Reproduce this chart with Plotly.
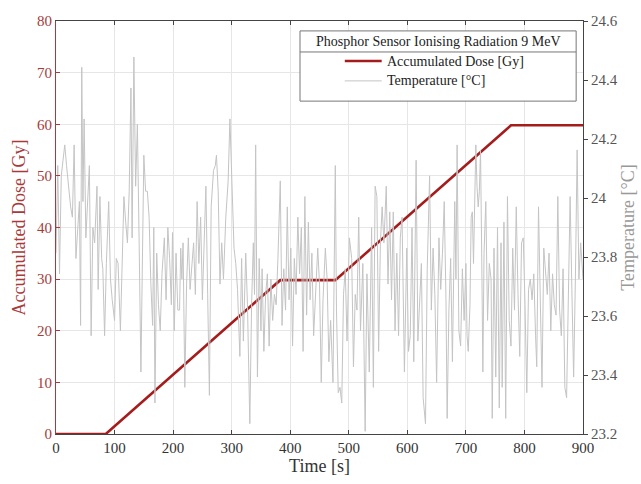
import plotly.graph_objects as go

# Accumulated dose profile (Gy) vs time (s)
dose_time = [0, 85, 383, 477, 777, 900]
dose_gy = [0, 0, 29.8, 29.8, 59.8, 59.8]

# Temperature trace (°C) vs time (s)
temp_time = [
    0, 3, 6, 9, 12, 15, 18, 21, 25, 28,
    31, 34, 37, 40, 42, 44, 46, 48, 51, 54,
    57, 60, 63, 66, 70, 72, 75, 78, 80, 83,
    86, 90, 93, 96, 100, 103, 106, 110, 113, 116,
    119, 122, 125, 128, 130, 133, 136, 139, 142, 145,
    150, 153, 156, 159, 162, 165, 167, 169, 172, 175,
    178, 181, 185, 188, 191, 194, 197, 199, 202, 205,
    208, 211, 213, 215, 217, 220, 223, 226, 229, 232,
    235, 238, 241, 244, 247, 250, 253, 256, 259, 262,
    265, 269, 272, 274, 277, 280, 283, 286, 290, 294,
    297, 301, 304, 307, 310, 314, 317, 320, 324, 327,
    331, 334, 337, 339, 341, 344, 347, 350, 352, 355,
    358, 361, 364, 367, 370, 373, 376, 379, 383, 386,
    389, 392, 395, 398, 401, 404, 407, 410, 413, 416,
    419, 422, 425, 428, 431, 434, 437, 440, 444, 447,
    450, 453, 456, 460, 463, 466, 469, 473, 477, 479,
    482, 485, 488, 491, 494, 497, 501, 505, 508, 511,
    514, 517, 520, 524, 528, 531, 535, 539, 542, 545,
    548, 551, 554, 557, 560, 564, 567, 570, 573, 576,
    579, 582, 585, 588, 591, 595, 599, 602, 605, 608,
    611, 615, 618, 621, 624, 627, 631, 634, 636, 638,
    641, 644, 647, 650, 654, 657, 660, 663, 666, 668,
    671, 674, 677, 679, 681, 683, 685, 688, 691, 694,
    697, 700, 702, 704, 707, 709, 711, 713, 715, 717,
    719, 721, 723, 725, 727, 729, 731, 734, 737, 740,
    743, 745, 748, 751, 754, 757, 760, 762, 765, 768,
    771, 774, 777, 780, 783, 786, 789, 792, 795, 798,
    801, 804, 807, 810, 813, 816, 819, 821, 824, 827,
    830, 833, 836, 839, 842, 845, 848, 851, 854, 857,
    860, 863, 866, 869, 872, 875, 878, 881, 884, 887,
    890, 893, 896, 900,
]
temp_c = [
    23.813, 24.11, 23.743, 24.075, 24.128, 24.18, 24.11, 24.04, 23.97, 23.935,
    24.18, 23.795, 23.9, 23.988, 23.568, 24.443, 23.988, 24.268, 23.865, 23.97,
    24.11, 23.533, 23.9, 23.848, 24.04, 23.69, 24.005, 23.795, 23.76, 23.533,
    23.778, 23.988, 23.725, 23.655, 23.585, 23.795, 23.778, 23.55, 23.813, 24.005,
    23.918, 23.848, 24.023, 24.373, 23.865, 24.478, 24.04, 24.25, 23.848, 23.41,
    24.145, 24.023, 24.023, 23.935, 23.708, 23.568, 23.9, 23.305, 23.813, 23.638,
    23.55, 23.743, 23.865, 23.655, 23.9, 23.795, 23.638, 23.883, 23.55, 23.813,
    23.62, 23.62, 23.83, 23.725, 23.848, 23.358, 23.708, 23.865, 23.69, 23.76,
    23.848, 23.673, 23.988, 23.778, 23.935, 23.655, 23.83, 24.04, 23.673, 23.331,
    23.97, 24.093, 24.11, 24.145, 24.023, 23.708, 23.848, 23.725, 23.935, 24.058,
    24.268, 23.988, 23.83, 23.778, 23.69, 23.463, 23.795, 23.515, 23.813, 23.638,
    23.235, 23.638, 23.848, 23.673, 24.18, 23.393, 23.795, 23.55, 23.76, 23.48,
    23.673, 23.743, 23.498, 23.725, 23.585, 23.673, 23.638, 23.795, 24.058, 23.568,
    23.76, 23.62, 23.97, 23.655, 23.83, 23.498, 23.795, 23.673, 23.935, 23.743,
    23.9, 23.48, 24.005, 23.603, 23.918, 23.655, 23.813, 23.533, 23.725, 23.83,
    23.708, 23.375, 23.655, 23.83, 23.725, 23.445, 23.585, 23.375, 24.11, 23.62,
    23.34, 23.358, 23.305, 23.673, 23.76, 23.515, 23.865, 23.795, 23.428, 23.673,
    23.62, 23.935, 23.55, 23.778, 23.209, 23.743, 23.41, 23.9, 23.358, 24.04,
    24.005, 23.48, 23.848, 23.97, 23.848, 24.04, 23.708, 23.953, 23.655, 23.953,
    23.55, 23.813, 23.533, 23.865, 23.935, 23.41, 23.83, 23.48, 23.533, 23.9,
    23.445, 24.128, 23.515, 23.638, 23.778, 23.323, 23.235, 23.76, 23.953, 24.075,
    23.62, 23.83, 23.673, 23.375, 23.865, 23.69, 23.813, 23.988, 23.655, 23.253,
    23.62, 23.795, 23.445, 23.725, 23.988, 23.725, 24.18, 23.55, 23.498, 23.76,
    23.585, 23.778, 23.533, 23.48, 23.638, 23.935, 23.953, 23.778, 24.023, 24.18,
    24.04, 23.97, 24.023, 24.163, 23.813, 23.41, 23.813, 23.988, 23.585, 23.778,
    23.725, 23.253, 23.83, 23.393, 23.9, 23.288, 23.848, 23.358, 23.918, 23.253,
    24.005, 23.585, 23.498, 23.83, 23.62, 23.97, 23.673, 23.463, 23.848, 23.865,
    23.638, 23.34, 23.69, 23.725, 23.655, 23.743, 23.533, 23.428, 23.97, 23.62,
    23.358, 23.83, 23.76, 23.673, 23.813, 23.55, 23.743, 23.638, 23.603, 24.005,
    23.62, 23.533, 23.76, 23.358, 23.323, 23.743, 24.005, 23.69, 23.393, 23.725,
    24.163, 23.725, 23.848, 23.725,
]

RED = "#a51c1c"
RED_TXT = "#a83a3a"
GRAY_LINE = "#c4c4c4"
FONT = "Liberation Serif"

fig = go.Figure()
fig.add_trace(go.Scatter(x=temp_time, y=temp_c, mode="lines", yaxis="y2",
                         line=dict(color=GRAY_LINE, width=1),
                         name="Temperature [°C]", showlegend=False))
fig.add_trace(go.Scatter(x=dose_time, y=dose_gy, mode="lines",
                         line=dict(color=RED, width=2.6),
                         name="Accumulated Dose [Gy]", showlegend=False))

grid = "#e6e6e6"
fig.update_layout(
    width=641, height=484,
    margin=dict(l=56, r=58, t=21, b=50),
    paper_bgcolor="white", plot_bgcolor="white",
    font=dict(family=FONT, size=15, color="#333"),
    xaxis=dict(range=[0, 900], dtick=100, showgrid=True, gridcolor=grid,
               ticks="inside", ticklen=4, tickcolor="#444", showline=True,
               linecolor="#444", mirror="ticks", zeroline=False, automargin=False,
               title=dict(text="Time [s]", font=dict(size=18, color="#333"), standoff=2),
               tickfont=dict(size=15, color="#333")),
    yaxis=dict(range=[0, 80], dtick=10, showgrid=True, gridcolor=grid,
               ticks="inside", ticklen=4, tickcolor=RED_TXT, showline=True,
               linecolor=RED_TXT, zeroline=False, automargin=False,
               title=dict(text="Accumulated Dose [Gy]", font=dict(size=18, color=RED_TXT), standoff=6),
               tickfont=dict(size=15, color=RED_TXT)),
    yaxis2=dict(range=[23.2, 24.6], dtick=0.2, overlaying="y", side="right",
                showgrid=False, ticks="outside", ticklen=4, tickcolor="#444",
                showline=True, linecolor="#444", zeroline=False, automargin=False,
                title=dict(text="Temperature [°C]", font=dict(size=18, color="#999"), standoff=4),
                tickfont=dict(size=15, color="#555")),
)

# Legend box drawn in paper coordinates
x0, x1 = 0.463, 0.987
y0, y1 = 0.806, 0.976
ysep = 0.925
fig.add_shape(type="rect", xref="paper", yref="paper", x0=x0, x1=x1, y0=y0, y1=y1,
              line=dict(color="#777", width=1), fillcolor="white", layer="above")
fig.add_shape(type="line", xref="paper", yref="paper", x0=x0, x1=x1, y0=ysep, y1=ysep,
              line=dict(color="#777", width=1), layer="above")
fig.add_shape(type="line", xref="paper", yref="paper", x0=0.548, x1=0.618, y0=0.903, y1=0.903,
              line=dict(color=RED, width=2.6), layer="above")
fig.add_shape(type="line", xref="paper", yref="paper", x0=0.548, x1=0.618, y0=0.855, y1=0.855,
              line=dict(color=GRAY_LINE, width=1), layer="above")
fig.add_annotation(xref="paper", yref="paper", x=(x0 + x1) / 2, y=0.951,
                   text="Phosphor Sensor Ionising Radiation 9 MeV", showarrow=False,
                   font=dict(size=14, color="#222"), xanchor="center", yanchor="middle")
fig.add_annotation(xref="paper", yref="paper", x=0.624, y=0.903,
                   text="Accumulated Dose [Gy]", showarrow=False,
                   font=dict(size=14, color="#222"), xanchor="left", yanchor="middle")
fig.add_annotation(xref="paper", yref="paper", x=0.624, y=0.855,
                   text="Temperature [°C]", showarrow=False,
                   font=dict(size=14, color="#222"), xanchor="left", yanchor="middle")

fig.write_html("out.html", config={"displayModeBar": False},
               post_script="document.body.style.margin='0';")
